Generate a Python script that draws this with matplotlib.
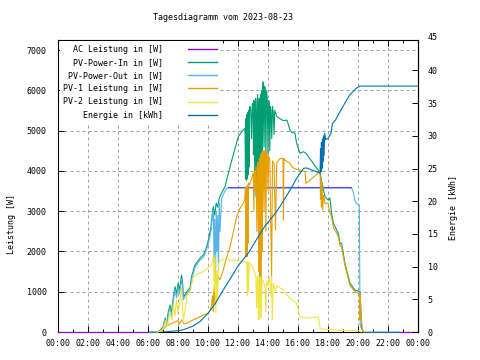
import matplotlib
matplotlib.use('Agg')
import matplotlib.pyplot as plt
from matplotlib.ticker import MultipleLocator, FixedLocator
import matplotlib.transforms as mtransforms

plt.rcParams['font.family'] = ['DejaVu Sans Mono']
plt.rcParams['font.size'] = 6

nan = float('nan')

# --- data (hours of day, W / kWh) ---
ac_t = [0.0, 6.1, 6.11, 11.3, 19.55, 19.56, 22.7, 24.0]
ac_w = [0, 0, nan, 3590, 3590, nan, 0, 0]

pvin_t = [6.1, 6.6, 6.8, 7.0, 7.15, 7.25, 7.35, 7.47, 7.55, 7.7, 7.8, 7.9, 8.0, 8.1, 8.24, 8.3,
          8.36, 8.5, 8.7, 8.8, 8.9, 9.13, 9.3, 9.5, 9.69, 9.85, 10.0, 10.2, 10.3, 10.36, 10.45,
          10.55, 10.65, 10.75, 10.9, 11.13, 11.5, 12.02, 12.3, 12.47, 12.5, 12.53, 12.56, 12.59,
          12.62, 12.65, 12.68, 12.71, 12.74, 12.77, 12.8, 12.85, 12.9, 12.95, 13.0, 13.03, 13.06,
          13.1, 13.14, 13.18, 13.22, 13.26, 13.3, 13.34, 13.38, 13.42, 13.46, 13.5, 13.54, 13.58,
          13.62, 13.66, 13.7, 13.74, 13.78, 13.82, 13.86, 13.9, 13.95, 14.0, 14.04, 14.08, 14.12,
          14.16, 14.2, 14.25, 14.3, 14.35, 14.4, 14.45, 14.6, 14.8, 15.0, 15.27, 15.47, 15.6, 15.8,
          15.9, 16.13, 16.36, 16.53, 17.47, 17.6, 17.8, 18.02, 18.13, 18.24, 18.36, 18.58, 18.69,
          18.8, 18.91, 19.13, 19.3, 19.47, 19.8, 20.13, 20.2, 20.24, 20.35]
pvin_w = [0, 0, 40, 130, 350, 200, 500, 670, 450, 900, 1125, 950, 1200, 1050, 1415, 1250,
          875, 950, 1050, 1090, 1370, 1660, 1750, 1850, 1910, 2050, 2240, 2600, 3000, 3110, 2900,
          3200, 3100, 3325, 3450, 3606, 4150, 4850, 5000, 5060, 3800, 5300, 3770, 5400,
          3800, 5450, 3900, 5500, 4100, 5550, 5600, 5500, 4800, 5650, 5680, 4400, 5750,
          5500, 4000, 5800, 5300, 3700, 5900, 5600, 2200, 5800, 1040, 5900, 1800, 6000,
          3500, 6210, 5900, 4600, 6100, 5900, 4300, 6000, 5800, 4400, 5750, 5700, 4500,
          5600, 5500, 4800, 5600, 5450, 4900, 5500, 5340, 5300, 5250, 5260, 5010, 4950, 4940,
          4700, 4440, 4475, 4440, 3950, 3700, 3360, 3275, 3325, 2945, 2700, 2530, 2450,
          2200, 2200, 1700, 1450, 1210, 1040, 1000, 500, 90, 0]

pvout_t = [6.1, 6.6, 6.8, 7.0, 7.15, 7.25, 7.35, 7.47, 7.55, 7.7, 7.8, 7.9, 8.0, 8.1, 8.24, 8.3,
           8.36, 8.5, 8.7, 8.8, 8.9, 9.13, 9.3, 9.5, 9.69, 9.85, 10.0, 10.2, 10.3, 10.36, 10.4,
           10.45, 10.5, 10.55, 10.6, 10.65, 10.7, 10.75, 10.8, 10.9, 11.0, 11.13, 11.24, 13.1,
           13.2, 13.3, 13.47, 19.58, 19.7, 19.8, 19.9, 20.09, 20.13, 20.15, 20.25, 20.4, 22.7]
pvout_w = [0, 0, 20, 100, 300, 150, 450, 600, 400, 800, 1050, 850, 1100, 950, 1300, 1150,
           800, 900, 1000, 1030, 1300, 1600, 1700, 1800, 1850, 2000, 2150, 2500, 2900, 3030, 1800,
           2800, 1125, 3000, 2000, 2900, 1500, 3200, 2500, 3300, 3400, 3500, 3570, 3570,
           3360, 3570, 3570, 3570, 3450, 3250, 3190, 3150, 500, 150, 80, 0, 0]

pv1_t = [6.6, 6.9, 7.0, 7.2, 7.5, 7.8, 8.0, 8.1, 8.24, 8.4, 8.6, 8.8, 9.0, 9.2, 9.47, 9.7, 10.02,
         10.15, 10.24, 10.3, 10.35, 10.4, 10.47, 10.5, 10.55, 10.6, 10.65, 10.69, 10.8, 11.02,
         11.2, 11.47, 11.7, 11.91, 12.1, 12.36, 12.45, 12.5, 12.53, 12.56, 12.6, 12.63, 12.66,
         12.7, 12.75, 12.8, 12.9, 13.02, 13.06, 13.1, 13.14, 13.2, 13.26, 13.3, 13.34, 13.38,
         13.42, 13.46, 13.5, 13.54, 13.58, 13.62, 13.66, 13.7, 13.74, 13.78, 13.82, 13.86, 13.9,
         13.95, 14.0, 14.04, 14.12, 14.24, 14.3, 14.4, 14.5, 14.58, 14.8, 15.0, 15.03, 15.06,
         15.2, 15.47, 15.6, 15.8, 16.13, 16.47, 16.53, 17.47, 17.5, 17.53, 17.56, 17.6, 17.65,
         17.7, 17.8, 18.0, 18.1, 18.24, 18.36, 18.58, 18.7, 18.8, 18.91, 19.13, 19.3, 19.47,
         19.8, 20.1, 20.13, 20.15, 20.2, 20.3, 20.4]
pv1_w = [0, 20, 60, 150, 200, 250, 280, 200, 300, 200, 220, 260, 300, 330, 380, 420, 470,
         550, 670, 900, 500, 1100, 700, 1125, 1400, 800, 1300, 1370, 1300, 1540,
         1800, 2120, 2500, 2860, 3050, 3200, 3300, 3600, 1900, 3600, 1870, 3650, 2200,
         3700, 3650, 3700, 3800, 3950, 3000, 4000, 3500, 4100, 2500, 4200, 4000, 1500,
         4300, 700, 4400, 720, 4450, 2000, 4500, 4400, 3000, 4500, 4400, 2500, 4520,
         4400, 3500, 4350, 4300, 1370, 4250, 4200, 2530, 4200, 4300, 4320, 2780, 4300,
         4250, 4190, 4100, 4050, 4020, 3980, 3690, 3980, 3300, 3770, 3100, 3700, 3030,
         3400, 3190, 3200, 3000, 2850, 2600, 2450, 2350, 2150, 2100, 1650, 1400, 1150,
         1000, 950, 300, 950, 400, 50, 0]

pv2_t = [6.6, 6.9, 7.0, 7.2, 7.3, 7.47, 7.6, 7.7, 7.8, 7.9, 8.0, 8.1, 8.24, 8.3, 8.36, 8.5, 8.6,
         8.8, 9.02, 9.2, 9.4, 9.69, 9.9, 10.1, 10.24, 10.36, 10.42, 10.47, 10.52, 10.58, 10.62,
         10.7, 10.8, 11.0, 11.24, 11.8, 12.3, 12.58, 12.62, 12.66, 12.7, 12.74, 12.8, 12.9, 13.0,
         13.1, 13.2, 13.24, 13.3, 13.36, 13.4, 13.46, 13.5, 13.55, 13.6, 13.7, 13.8, 13.86, 13.9,
         14.0, 14.1, 14.2, 14.24, 14.28, 14.36, 14.5, 14.6, 15.02, 15.3, 15.6, 15.91, 16.13, 16.5,
         16.8, 17.1, 17.36, 17.47, 17.6, 18.0, 18.5, 19.0, 19.5, 20.1, 20.2]
pv2_w = [0, 30, 80, 300, 150, 500, 300, 700, 400, 800, 500, 700, 1125, 600, 300, 600, 900,
         1000, 1370, 1420, 1460, 1500, 1560, 1620, 1660, 1870, 1000, 1910, 470, 1500, 800,
         1700, 1780, 1800, 1790, 1780, 1760, 1745, 900, 1740, 1000, 1720, 1710, 1650, 1600,
         1500, 1350, 600, 1400, 300, 1380, 300, 1370, 350, 1300, 1250, 1100, 500, 1250,
         1150, 1350, 900, 1370, 300, 1210, 1000, 1150, 1040, 900, 800, 710, 380, 350,
         350, 360, 380, 100, 80, 60, 50, 40, 40, 30, 0]

en_t = [7.0, 7.5, 8.0, 8.36, 9.0, 9.47, 10.02, 10.5, 10.9, 11.5, 12.0, 12.7, 13.3, 13.8, 14.5,
        14.8, 15.47, 15.91, 16.36, 16.55, 17.47, 17.5, 17.53, 17.56, 17.6, 17.63, 17.66, 17.7,
        17.74, 17.78, 17.85, 18.0, 18.2, 18.3, 18.5, 18.8, 19.2, 19.47, 19.91, 20.13, 24.0]
en_kwh = [0, 0.1, 0.2, 0.35, 0.9, 1.6, 2.9, 4.4, 6.0, 8.2, 10.1, 12.1, 14.4, 16.2, 18.2,
          19.2, 21.7, 23.5, 25.0, 25.1, 24.3, 28.0, 24.5, 29.0, 25.0, 29.5, 26.0, 30.0,
          27.0, 30.4, 29.4, 29.6, 30.4, 31.9, 32.4, 33.7, 35.3, 36.3, 37.3, 37.6, 37.6]

labels = ['AC Leistung in [W]', 'PV-Power-In in [W]', 'PV-Power-Out in [W]',
          'PV-1 Leistung in [W]', 'PV-2 Leistung in [W]', 'Energie in [kWh]']
colors = ['#9400d3', '#009e73', '#56b4e9', '#e69f00', '#f0e442', '#0072b2']
xtick_labels = ['00:00', '02:00', '04:00', '06:00', '08:00', '10:00', '12:00',
                '14:00', '16:00', '18:00', '20:00', '22:00', '00:00']

fig = plt.figure(figsize=(4.8, 3.6), dpi=100)
ax = fig.add_axes([58 / 480, 28 / 360, 360 / 480, 292 / 360])
ax2 = ax.twinx()
# only keep the right spine on the twin so lines at 0 stay visible
for side in ['top', 'bottom', 'left']:
    ax2.spines[side].set_visible(False)

w = 0.8
lab = [s.rjust(20) for s in labels]
l1, = ax.plot(ac_t, ac_w, color=colors[0], lw=w, zorder=3, clip_on=False)
l2, = ax.plot(pvin_t, pvin_w, color=colors[1], lw=w, zorder=3, clip_on=False)
l3, = ax.plot(pvout_t, pvout_w, color=colors[2], lw=w, zorder=3, clip_on=False)
l4, = ax.plot(pv1_t, pv1_w, color=colors[3], lw=w, zorder=3, clip_on=False)
l5, = ax.plot(pv2_t, pv2_w, color=colors[4], lw=w, zorder=3, clip_on=False)
l6, = ax2.plot(en_t, en_kwh, color=colors[5], lw=w, zorder=3)

ax.set_xlim(0, 24)
ax.set_ylim(0, 7250)
ax2.set_ylim(0, 44.65)

ax.xaxis.set_major_locator(FixedLocator(range(0, 25, 2)))
ax.set_xticklabels(xtick_labels)
ax.xaxis.set_minor_locator(MultipleLocator(1))
ax.yaxis.set_major_locator(MultipleLocator(1000))
ax2.yaxis.set_major_locator(MultipleLocator(5))

ax.tick_params(axis='x', which='both', direction='in', top=True, pad=5)
ax.tick_params(axis='x', which='major', length=4, width=0.7)
ax.tick_params(axis='x', which='minor', length=2.5, width=0.7)
ax.tick_params(axis='y', direction='in', length=4, width=0.7, pad=8)
ax2.tick_params(axis='y', direction='in', length=4, width=0.7, pad=7)
ax2.annotate('45', xy=(1.0, 45),
             xycoords=mtransforms.blended_transform_factory(ax2.transAxes, ax2.transData),
             xytext=(7, 0), textcoords='offset points', ha='left', va='center',
             annotation_clip=False)

ax.grid(True, which='major', color='#a0a0a0', lw=0.72, linestyle=(0, (3, 3)))
ax.set_axisbelow(True)
for sp in ax.spines.values():
    sp.set_linewidth(0.8)
ax2.spines['right'].set_linewidth(0.8)

leg = ax2.legend([l1, l2, l3, l4, l5, l6], lab, loc='upper left', bbox_to_anchor=(0.006, 0.995),
                 markerfirst=False, frameon=True, facecolor='white', edgecolor='none',
                 framealpha=1, fancybox=False, handlelength=3.4, handletextpad=3.0,
                 labelspacing=0.5, borderpad=0.4, borderaxespad=0.0)
for ln in leg.get_lines():
    ln.set_linewidth(1.0)

fig.text(223 / 480, 1 - 17 / 360, 'Tagesdiagramm vom 2023-08-23', ha='center', va='center')
fig.text(12 / 480, 1 - 224 / 360, 'Leistung [W]', rotation=90, ha='center', va='center')
fig.text(453 / 480, 1 - 208 / 360, 'Energie [kWh]', rotation=90, ha='center', va='center')

fig.savefig('out.png', dpi=100)
